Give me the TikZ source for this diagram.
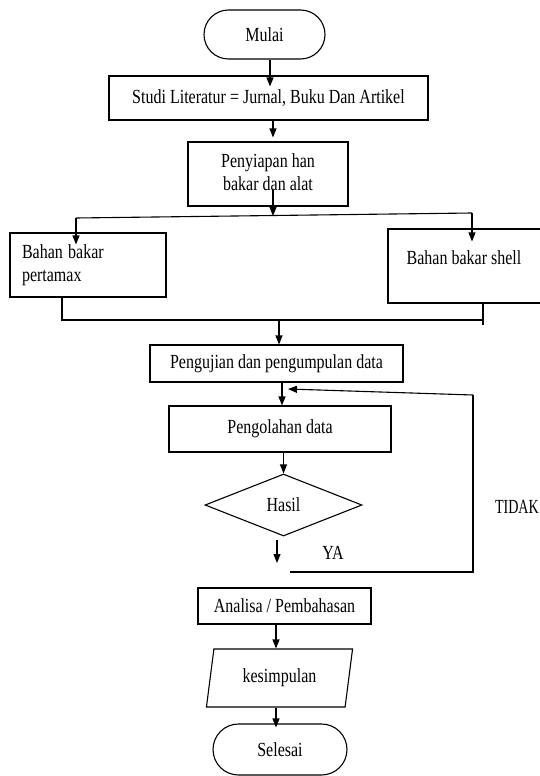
\documentclass[tikz,border=0pt]{standalone}
\usepackage{fontspec}
\usepackage{graphicx}
\setmainfont{Liberation Serif}
\usetikzlibrary{shapes.geometric,shapes.misc,arrows.meta}
\newcommand{\vt}[1]{\scalebox{1}[1.25]{#1}}
\newcommand{\vtc}[1]{\scalebox{1}[1.25]{\begin{tabular}{@{}c@{}}#1\end{tabular}}}
\newcommand{\vtl}[1]{\scalebox{1}[1.25]{\begin{tabular}{@{}l@{}}#1\end{tabular}}}
\begin{document}
\begin{tikzpicture}[x=1pt,y=-1pt,
  every node/.style={font=\fontsize{16}{18.4}\selectfont},
  box/.style={draw, line width=1.1pt, rectangle, inner sep=0pt, align=center},
  term/.style={draw, line width=1.1pt, rounded rectangle, inner sep=0pt},
  arr/.style={line width=1.1pt, -{Triangle[length=9pt,width=7pt]}},
  ln/.style={line width=1.1pt},
  lbl/.style={inner sep=0pt}]
\useasboundingbox (0,0) rectangle (539,776);

% nodes
\node[term, minimum width=121pt, minimum height=49pt] (mulai) at (264.5,34.5) {\vt{Mulai}};
\node[box, minimum width=319pt, minimum height=44pt] (studi) at (268.5,98) {\vt{Studi Literatur = Jurnal, Buku Dan Artikel}};
\node[box, minimum width=160pt, minimum height=64pt] (penyiapan) at (268,174) {\vtc{Penyiapan han\\bakar dan alat}};
\node[box, minimum width=156pt, minimum height=64pt, align=left, text width=132pt, inner xsep=12pt] (pertamax) at (88,265) {\vtl{Bahan bakar\\pertamax}};
\node[box, minimum width=160pt, minimum height=74pt] (shell) at (468,266) {};
\node[lbl] (shelltxt) at (464,258) {\vt{Bahan bakar shell}};
\node[box, minimum width=253pt, minimum height=37pt] (pengujian) at (276.5,363.5) {\vt{Pengujian dan pengumpulan data}};
\node[box, minimum width=222pt, minimum height=46pt] (pengolahan) at (280,429) {\vt{Pengolahan data}};
\node[draw, line width=1.1pt, diamond, minimum width=157pt, minimum height=62pt, inner sep=0pt] (hasil) at (283.5,505) {\vt{Hasil}};
\node[box, minimum width=173pt, minimum height=36pt] (analisa) at (284.5,606) {\vt{Analisa / Pembahasan}};
\node[draw, line width=1.1pt, trapezium, trapezium left angle=77, trapezium right angle=103, trapezium stretches=true, minimum width=147pt, minimum height=58pt, inner sep=0pt] (kesimpulan) at (279.5,678) {\vt{kesimpulan}};
\node[term, minimum width=134pt, minimum height=51pt] (selesai) at (280,749.5) {\vt{Selesai}};
\node[lbl] (ya) at (333,553) {\vt{YA}};
\node[lbl, anchor=east] (tidak) at (539,507) {\scalebox{0.88}[1.25]{TIDAK}};

% junction coordinates
\coordinate (sp) at (273,190);
\coordinate (jl) at (76,218);
\coordinate (jm) at (273,216);
\coordinate (jr) at (472,213);
\coordinate (bl) at (62,320);
\coordinate (bm) at (279,320);
\coordinate (br) at (483,320);
\coordinate (fbs) at (290,572);
\coordinate (fbc1) at (473,572);
\coordinate (fbc2) at (473,395);
\coordinate (fbt) at (288,389);
\coordinate (yae) at (277,563);

% connectors
\draw[arr] ([xshift=5.5pt]mulai.south) -- ([xshift=5.5pt,yshift=-11pt]mulai.south |- studi.north);
\draw[arr] ([xshift=4.5pt]studi.south) -- ([xshift=4.5pt,yshift=4pt]studi.south |- penyiapan.north);
\draw[arr] (sp) -- (jm);
\draw[ln] (jl) -- (jr);
\draw[arr] (jl) -- ([yshift=-12pt]jl |- pertamax.north);
\draw[arr] (jr) -- ([yshift=-13pt]jr |- shell.north);
\draw[ln] (pertamax.south -| bl) -- (bl) -- (br);
\draw[ln] (shell.south -| br) -- ([yshift=-5pt]br);
\draw[arr] (bm) -- (bm |- pengujian.north);
\draw[arr] ([xshift=5.5pt]pengujian.south) -- ([xshift=5.5pt]pengujian.south |- pengolahan.north);
\draw[arr] (hasil.north |- pengolahan.south) -- (hasil.north);
\draw[arr] ([xshift=-6.5pt,yshift=-3pt]hasil.south) -- (yae);
\draw[ln] (fbs) -- (fbc1) -- (fbc2);
\draw[arr] (fbc2) -- (fbt);
\draw[arr] ([xshift=-8.5pt]analisa.south) -- ([xshift=-8.5pt]analisa.south |- kesimpulan.north);
\draw[arr] ([xshift=-3.5pt]kesimpulan.south) -- ([xshift=-3.5pt,yshift=-4pt]kesimpulan.south |- selesai.north);
\end{tikzpicture}
\end{document}
